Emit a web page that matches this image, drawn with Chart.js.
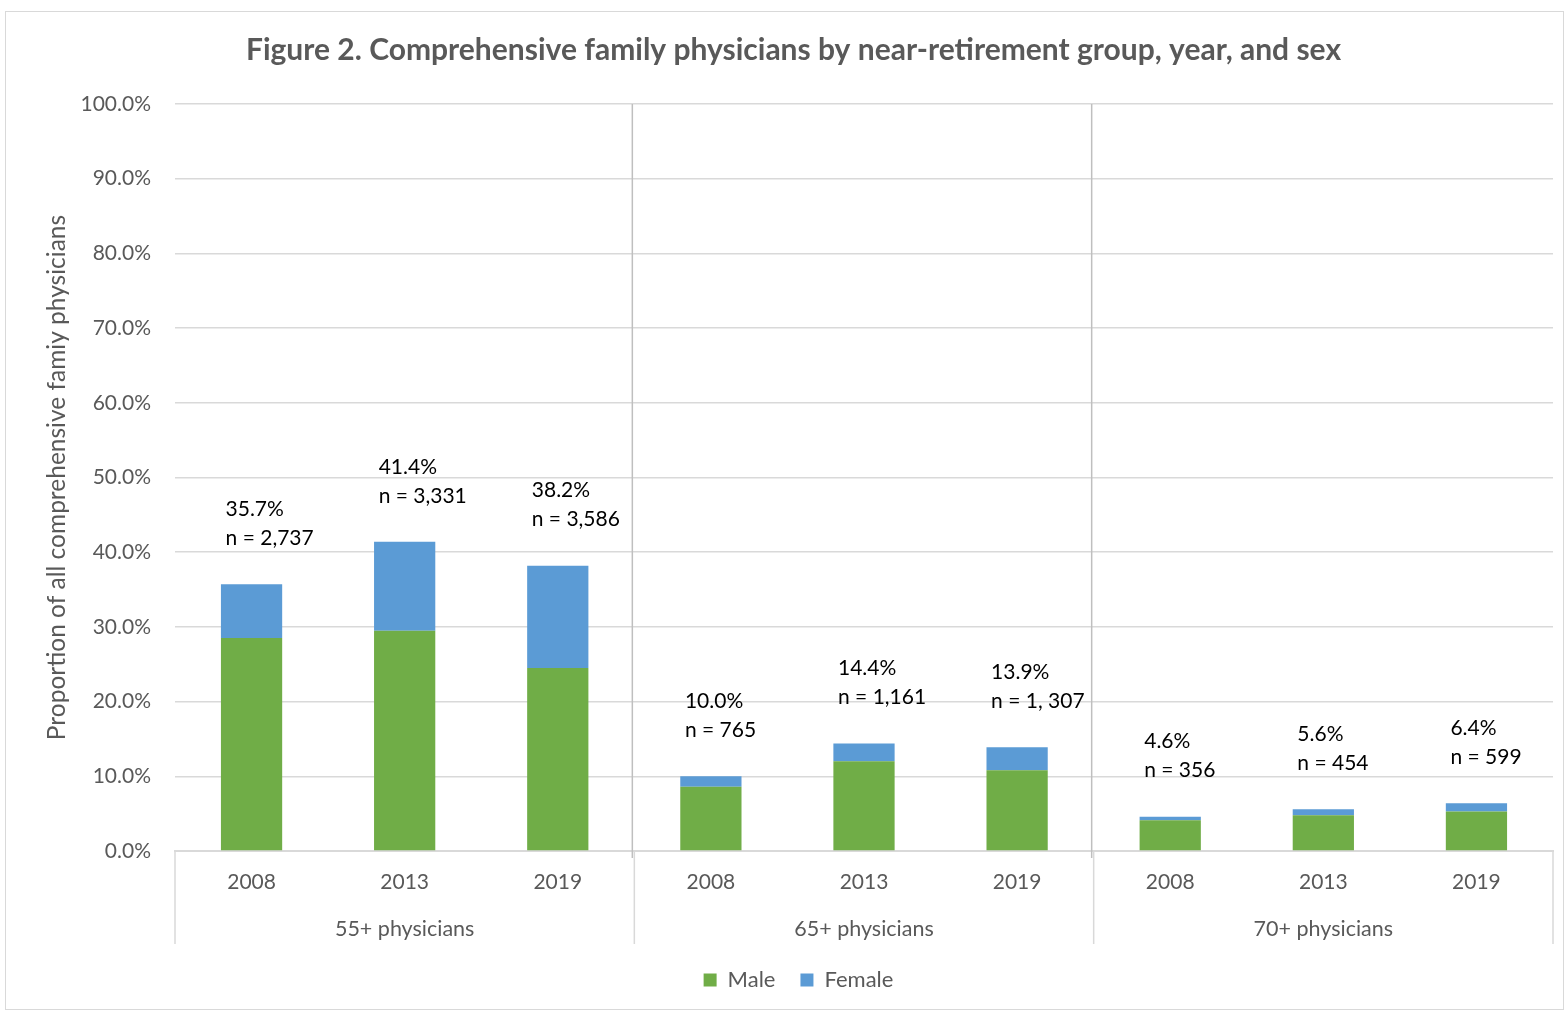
<!DOCTYPE html>
<html>
<head>
<meta charset="utf-8">
<title>Figure 2</title>
<script src="https://cdn.jsdelivr.net/npm/chart.js@4.4.0/dist/chart.umd.min.js"></script>
<style>
  html, body { margin: 0; padding: 0; background: #fff; }
  #box { position: relative; width: 1565px; height: 1012px; }
</style>
</head>
<body>
<div id="box"><canvas id="chart" width="1565" height="1012"></canvas></div>
<script>
const groups = ['55+ physicians', '65+ physicians', '70+ physicians'];
const years = ['2008', '2013', '2019'];
const male   = [28.5, 29.5, 24.5, 8.6, 12.0, 10.8, 4.1, 4.8, 5.3];
const female = [7.2, 11.9, 13.7, 1.4, 2.4, 3.1, 0.5, 0.8, 1.1];
const pctLabels = ['35.7%', '41.4%', '38.2%', '10.0%', '14.4%', '13.9%', '4.6%', '5.6%', '6.4%'];
const nLabels = ['n = 2,737', 'n = 3,331', 'n = 3,586', 'n = 765', 'n = 1,161', 'n = 1, 307', 'n = 356', 'n = 454', 'n = 599'];
const yTicks = [0, 10, 20, 30, 40, 50, 60, 70, 80, 90, 100];
const TITLE = 'Figure 2. Comprehensive family physicians by near-retirement group, year, and sex';

const FONT = 'Lato, "Open Sans", sans-serif';
const GREY = '#595959';

// categories: each year inside each group
const labels = [];
groups.forEach(() => years.forEach(y => labels.push(y)));

const groupAxis = {
  id: 'groupAxis',
  afterLayout(chart) {
    // legend sits a little right of centre in the original
    chart.legend.left += 22;
    chart.legend.right += 22;
  },
  beforeDatasetsDraw(chart) {
    const { ctx, chartArea: a, scales: { x } } = chart;
    ctx.save();
    ctx.strokeStyle = '#bfbfbf';
    ctx.lineWidth = 1.5;
    for (let g = 1; g < groups.length; g++) {
      const i = g * years.length;
      const xb = (x.getPixelForValue(i - 1) + x.getPixelForValue(i)) / 2 - 2;
      ctx.beginPath();
      ctx.moveTo(xb, a.top);
      ctx.lineTo(xb, a.bottom + 7);
      ctx.stroke();
    }
    ctx.restore();
  },
  afterDraw(chart) {
    const { ctx, chartArea: a, scales: { x, y } } = chart;
    ctx.save();
    // title
    ctx.fillStyle = GREY;
    ctx.font = 'bold 30px ' + FONT;
    ctx.textAlign = 'center';
    ctx.textBaseline = 'middle';
    ctx.fillText(TITLE, chart.width / 2 + 11, 50);

    // boxes under the category axis
    ctx.strokeStyle = '#d9d9d9';
    ctx.lineWidth = 1.5;
    const step = x.getPixelForValue(1) - x.getPixelForValue(0);
    for (let g = 0; g <= groups.length; g++) {
      let xb;
      if (g === 0) xb = x.getPixelForValue(0) - step / 2;
      else xb = x.getPixelForValue(g * years.length - 1) + step / 2;
      ctx.beginPath();
      ctx.moveTo(xb, a.bottom);
      ctx.lineTo(xb, x.bottom);
      ctx.stroke();
    }
    // group names
    ctx.font = '21.5px ' + FONT;
    groups.forEach((name, g) => {
      const c = x.getPixelForValue(g * years.length + 1);
      ctx.fillText(name, c, x.bottom - 15);
    });
    // value labels above each bar
    ctx.fillStyle = '#000';
    ctx.font = '21px ' + FONT;
    ctx.textAlign = 'left';
    labels.forEach((_, i) => {
      const top = y.getPixelForValue(male[i] + female[i]);
      const cx = x.getPixelForValue(i) - 26;
      ctx.fillText(nLabels[i], cx, top - 46);
      ctx.fillText(pctLabels[i], cx, top - 75);
    });
    // outer frame
    ctx.strokeStyle = '#d9d9d9';
    ctx.lineWidth = 1;
    ctx.strokeRect(5.5, 11.5, 1558, 998);
    ctx.restore();
  }
};

new Chart(document.getElementById('chart'), {
  type: 'bar',
  data: {
    labels: labels,
    datasets: [
      { label: 'Male', data: male, backgroundColor: '#70ad47' },
      { label: 'Female', data: female, backgroundColor: '#5b9bd5' }
    ]
  },
  options: {
    responsive: false,
    animation: false,
    datasets: { bar: { categoryPercentage: 1, barPercentage: 0.4, borderWidth: 0 } },
    layout: { padding: { left: 0, right: 12, top: 104, bottom: 11 } },
    scales: {
      x: {
        stacked: true,
        grid: { display: false, drawTicks: false },
        border: { display: true, color: '#d9d9d9', width: 2 },
        ticks: { color: GREY, font: { family: FONT, size: 21 }, padding: 19, maxRotation: 0 },
        afterFit(s) { s.height = 93; }
      },
      y: {
        stacked: true,
        min: 0,
        max: 100,
        afterBuildTicks(s) { s.ticks = yTicks.map(v => ({ value: v })); },
        grid: { color: '#d9d9d9', lineWidth: 1.5, drawTicks: false },
        border: { display: false },
        ticks: {
          color: GREY,
          font: { family: FONT, size: 21 },
          padding: 24,
          callback: v => v.toFixed(1) + '%'
        },
        title: {
          display: true,
          text: 'Proportion of all comprehensive famiy physicians',
          color: GREY,
          font: { family: FONT, size: 24.5 },
          padding: { top: 42, bottom: 0 }
        },
        afterFit(s) { s.width = 175; }
      }
    },
    plugins: {
      title: { display: false },
      legend: {
        position: 'bottom',
        labels: {
          color: GREY,
          font: { family: FONT, size: 22 },
          boxWidth: 13,
          boxHeight: 13,
          padding: 25
        }
      },
      tooltip: { enabled: false }
    }
  },
  plugins: [groupAxis]
});
</script>
</body>
</html>
